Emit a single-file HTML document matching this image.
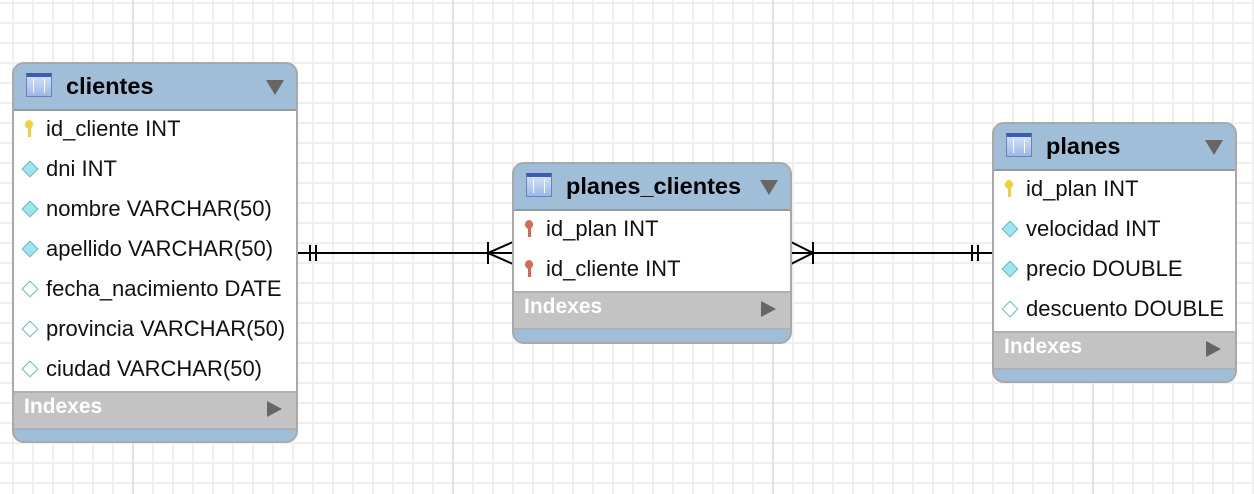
<!DOCTYPE html>
<html><head><style>
body{margin:0;width:1254px;height:494px;overflow:hidden;font-family:"Liberation Sans",Arial,sans-serif;
background-color:#fff;
background-image:
linear-gradient(to right,#e2e2e2 2px,transparent 2px),
linear-gradient(to right,#efefef 2px,transparent 2px),
linear-gradient(to bottom,#efefef 2px,transparent 2px);
background-size:320px 320px,20px 20px,20px 20px;
background-position:132px 0,12px 0,0 2px;}
.t{position:absolute;border:2px solid #a9a9a9;border-radius:12px;background:#a0bed8;overflow:hidden;box-sizing:border-box}
.h{height:45px;border-bottom:2px solid #9a9a9a;position:relative;font-weight:bold;font-size:23.5px;line-height:45px;padding-left:52px;color:#000}
.ic{position:absolute;left:12px;top:9px;width:26px;height:24px;background:linear-gradient(#cfe0f7,#9cb6e6);border:1px solid #6b82b8;border-top:4px solid #3d5bb6;box-sizing:border-box}
.ic:before{content:"";position:absolute;left:6px;top:2px;width:10px;height:14px;border-left:1px solid #fff;border-right:1px solid #fff}
.tri{position:absolute;right:12px;top:16px;width:0;height:0;border-left:9px solid transparent;border-right:9px solid transparent;border-top:15px solid #666}
.b{background:#fff}
.r{height:40px;line-height:36px;font-size:22px;padding-left:32px;position:relative;color:#111;white-space:nowrap}
.r .k{position:absolute;left:11px;top:9px;width:8px;height:9px;border-radius:50%}
.r .k:after{content:"";position:absolute;left:3px;top:7px;width:3px;height:10px;background:inherit}
.r .d{position:absolute;left:10px;top:12px;width:10px;height:10px;transform:rotate(45deg);border:1px solid #6bb;background:#9ee5ef}
.r .d.e{background:#fff}
.ix{height:35px;background:#c3c3c3;border-top:2px solid #b0b0b0;border-bottom:2px solid #b0b0b0;color:#fff;font-weight:bold;font-size:21px;line-height:28px;padding-left:10px;position:relative}
.ix:after{content:"";position:absolute right;position:absolute;right:14px;top:8px;border-top:8px solid transparent;border-bottom:8px solid transparent;border-left:15px solid #666}
</style></head><body>
<svg style="position:absolute;left:0;top:0" width="1254" height="494">
<g stroke="#000" stroke-width="2" fill="none">
<line x1="297" y1="253" x2="513" y2="253"/>
<line x1="310" y1="245" x2="310" y2="261"/><line x1="316" y1="245" x2="316" y2="261"/>
<line x1="488" y1="242" x2="488" y2="264"/>
<polyline points="513,242 488,253 513,264"/>
<line x1="791" y1="253" x2="993" y2="253"/>
<line x1="813" y1="242" x2="813" y2="264"/>
<polyline points="791,242 813,253 791,264"/>
<line x1="972" y1="245" x2="972" y2="261"/><line x1="978" y1="245" x2="978" y2="261"/>
</g></svg>

<div class="t" style="left:12px;top:62px;width:286px;height:381px">
<div class="h"><span class="ic"></span>clientes<span class="tri"></span></div>
<div class="b">
<div class="r"><span class="k" style="background:#f2cf3d"></span>id_cliente INT</div>
<div class="r"><span class="d"></span>dni INT</div>
<div class="r"><span class="d"></span>nombre VARCHAR(50)</div>
<div class="r"><span class="d"></span>apellido VARCHAR(50)</div>
<div class="r"><span class="d e"></span>fecha_nacimiento DATE</div>
<div class="r"><span class="d e"></span>provincia VARCHAR(50)</div>
<div class="r"><span class="d e"></span>ciudad VARCHAR(50)</div>
</div>
<div class="ix">Indexes</div>
</div>

<div class="t" style="left:512px;top:162px;width:280px;height:182px">
<div class="h"><span class="ic"></span>planes_clientes<span class="tri"></span></div>
<div class="b">
<div class="r"><span class="k" style="background:#d86a55"></span>id_plan INT</div>
<div class="r"><span class="k" style="background:#d86a55"></span>id_cliente INT</div>
</div>
<div class="ix">Indexes</div>
</div>

<div class="t" style="left:992px;top:122px;width:245px;height:261px">
<div class="h"><span class="ic"></span>planes<span class="tri"></span></div>
<div class="b">
<div class="r"><span class="k" style="background:#f2cf3d"></span>id_plan INT</div>
<div class="r"><span class="d"></span>velocidad INT</div>
<div class="r"><span class="d"></span>precio DOUBLE</div>
<div class="r"><span class="d e"></span>descuento DOUBLE</div>
</div>
<div class="ix">Indexes</div>
</div>
</body></html>
